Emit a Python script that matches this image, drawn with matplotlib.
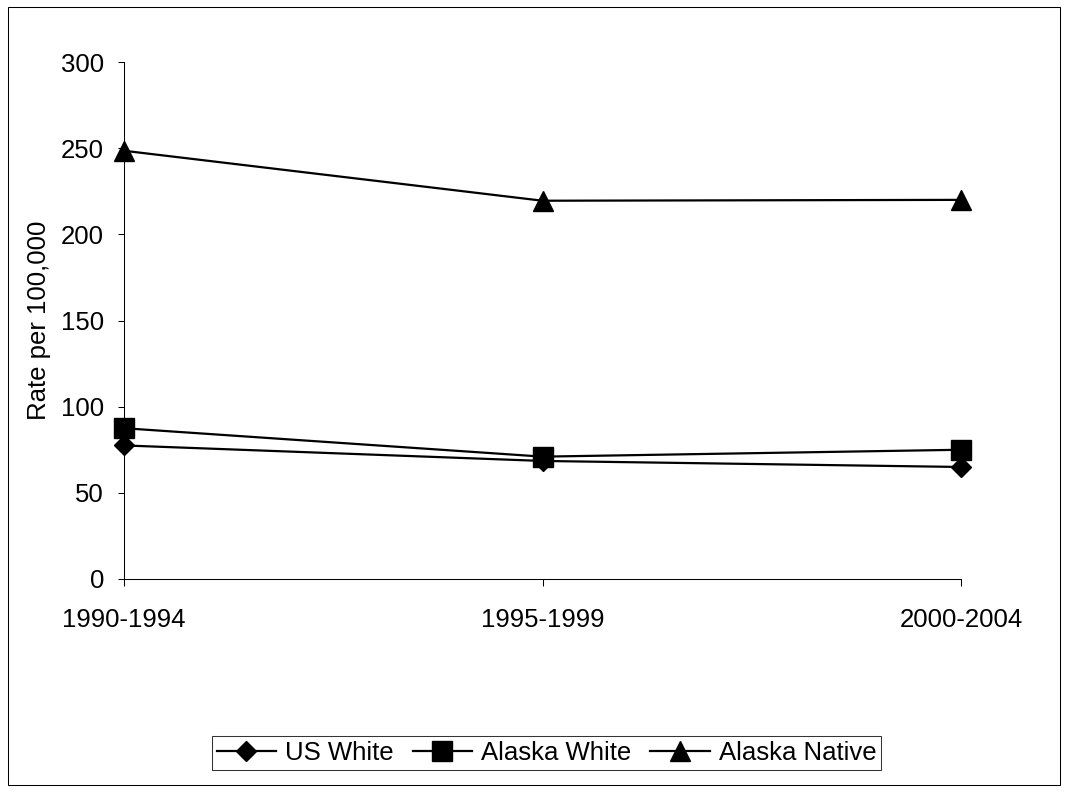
import matplotlib.pyplot as plt
from matplotlib.patches import Rectangle

plt.rcParams['font.family'] = ['Liberation Sans', 'DejaVu Sans']

periods = ["1990-1994", "1995-1999", "2000-2004"]
us_white = [77.5, 68.5, 65]
alaska_white = [87.5, 71, 75]
alaska_native = [248.5, 219.5, 220]

W, H = 1068, 792
fig = plt.figure(figsize=(W / 100, H / 100), dpi=100)
ax = fig.add_axes([124 / W, 1 - 579 / H, (961 - 124) / W, (579 - 62) / H])

fs = 18.5
x = range(len(periods))
ax.plot(x, us_white, color='black', lw=1.6, marker='D', ms=9.7, clip_on=False, label='US White')
ax.plot(x, alaska_white, color='black', lw=1.6, marker='s', ms=13.7, clip_on=False, label='Alaska White')
ax.plot(x, alaska_native, color='black', lw=1.6, marker='^', ms=14.4, clip_on=False, label='Alaska Native')

ax.set_xlim(0, len(periods) - 1)
ax.set_ylim(0, 300)
ax.set_yticks(range(0, 301, 50))
ax.set_xticks(list(x))
ax.set_xticklabels(periods)
ax.set_ylabel('Rate per 100,000', fontsize=fs, labelpad=7)
ax.tick_params(labelsize=fs, direction='out', width=0.75, color='black')
ax.tick_params(axis='y', length=4.3, pad=10)
ax.tick_params(axis='x', length=5, pad=16)
for side in ['top', 'right']:
    ax.spines[side].set_visible(False)
for side in ['left', 'bottom']:
    ax.spines[side].set_linewidth(0.75)

leg = fig.legend(loc='center', bbox_to_anchor=(546.5 / W, 1 - 753 / H), ncol=3, fontsize=fs,
                 frameon=True, fancybox=False, edgecolor='black', handlelength=2.3,
                 handletextpad=0.35, columnspacing=0.75, borderpad=0.2, borderaxespad=0)
leg.get_frame().set_linewidth(0.75)

# thin frame around the whole figure
fig.patches.append(Rectangle((8 / W, 7 / H), (1060 - 8) / W, (785 - 7) / H,
                             transform=fig.transFigure, fill=False, edgecolor='black', lw=0.75))

fig.savefig('out.png', dpi=100)
